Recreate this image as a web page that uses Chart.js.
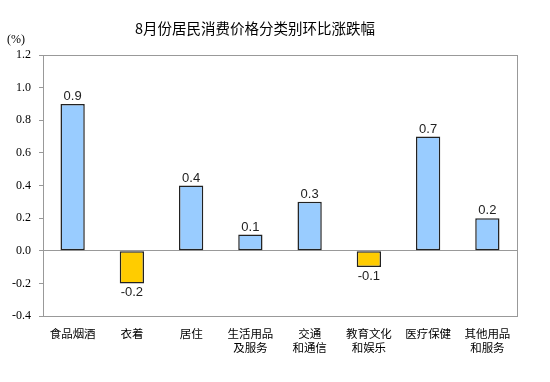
<!DOCTYPE html>
<html><head><meta charset="utf-8">
<script src="https://cdn.jsdelivr.net/npm/chart.js@4/dist/chart.umd.min.js"></script>
<style>html,body{margin:0;padding:0;background:#fff}#wrap{width:550px;height:382px;position:relative}</style>
</head><body><div id="wrap"><canvas id="c" width="550" height="382"></canvas></div>
<script>
const categories = [["食品烟酒"],["衣着"],["居住"],["生活用品","及服务"],["交通","和通信"],["教育文化","和娱乐"],["医疗保健"],["其他用品","和服务"]];
const values = [0.9, -0.2, 0.4, 0.1, 0.3, -0.1, 0.7, 0.2];
const titleText = "8月份居民消费价格分类别环比涨跌幅";
const unitText = "(%)";
const yMin = -0.4, yMax = 1.2, yStep = 0.2;

const CJK = '"Noto Sans CJK SC", "Noto Sans", sans-serif';
const SERIF = '"Liberation Serif", "DejaVu Serif", serif';
const extras = {
  id: 'extras',
  afterDraw(chart) {
    const ctx = chart.ctx, a = chart.chartArea;
    ctx.save();
    ctx.strokeStyle = '#999';
    ctx.lineWidth = 1;
    ctx.strokeRect(Math.round(a.left) + 0.5, Math.round(a.top) + 0.5, Math.round(a.right - a.left), Math.round(a.bottom - a.top));
    ctx.fillStyle = '#000';
    ctx.font = '14.5px ' + CJK;
    ctx.textAlign = 'center'; ctx.textBaseline = 'middle';
    ctx.fillText(titleText, 255, 28);
    ctx.font = '12px ' + SERIF;
    ctx.textAlign = 'left';
    ctx.fillText(unitText, 7, 40);
    const meta = chart.getDatasetMeta(0);
    ctx.font = '13px "Liberation Sans", Arial, sans-serif';
    ctx.fillStyle = '#222';
    ctx.textAlign = 'center';
    meta.data.forEach((bar, i) => {
      const v = values[i];
      if (v >= 0) { ctx.textBaseline = 'bottom'; ctx.fillText(v.toFixed(1), bar.x, bar.y - 1); }
      else { ctx.textBaseline = 'top'; ctx.fillText(v.toFixed(1), bar.x, bar.y + 3); }
    });
    ctx.restore();
  }
};

new Chart(document.getElementById('c'), {
  type: 'bar',
  data: {
    labels: categories,
    datasets: [{
      data: values,
      backgroundColor: values.map(v => v >= 0 ? '#99CCFF' : '#FFCC00'),
      borderColor: '#222',
      borderWidth: 1.5,
      borderSkipped: false,
      barPercentage: 0.41,
      categoryPercentage: 1
    }]
  },
  options: {
    responsive: false,
    animation: false,
    devicePixelRatio: 1,
    layout: { padding: { left: 0, right: 33, top: 55, bottom: 0 } },
    plugins: { legend: { display: false }, tooltip: { enabled: false }, title: { display: false } },
    scales: {
      x: {
        grid: { display: false, drawTicks: false },
        border: { display: false },
        ticks: { color: '#000', font: { family: CJK, size: 11.5, lineHeight: 1.25 }, padding: 10, maxRotation: 0, autoSkip: false },
        afterFit(s) { s.height = 66; }
      },
      y: {
        min: yMin, max: yMax,
        grid: {
          color: ctx => (ctx.tick && Math.abs(ctx.tick.value) < 1e-9) ? '#999' : 'rgba(0,0,0,0)',
          tickColor: '#999', tickLength: 4, drawTicks: true
        },
        border: { display: false },
        ticks: { stepSize: yStep, color: '#000', padding: 8, font: { family: SERIF, size: 12 },
          callback: v => Number(v).toFixed(1) },
        afterFit(s) { s.width = 43; }
      }
    }
  },
  plugins: [extras]
});
</script></body></html>
